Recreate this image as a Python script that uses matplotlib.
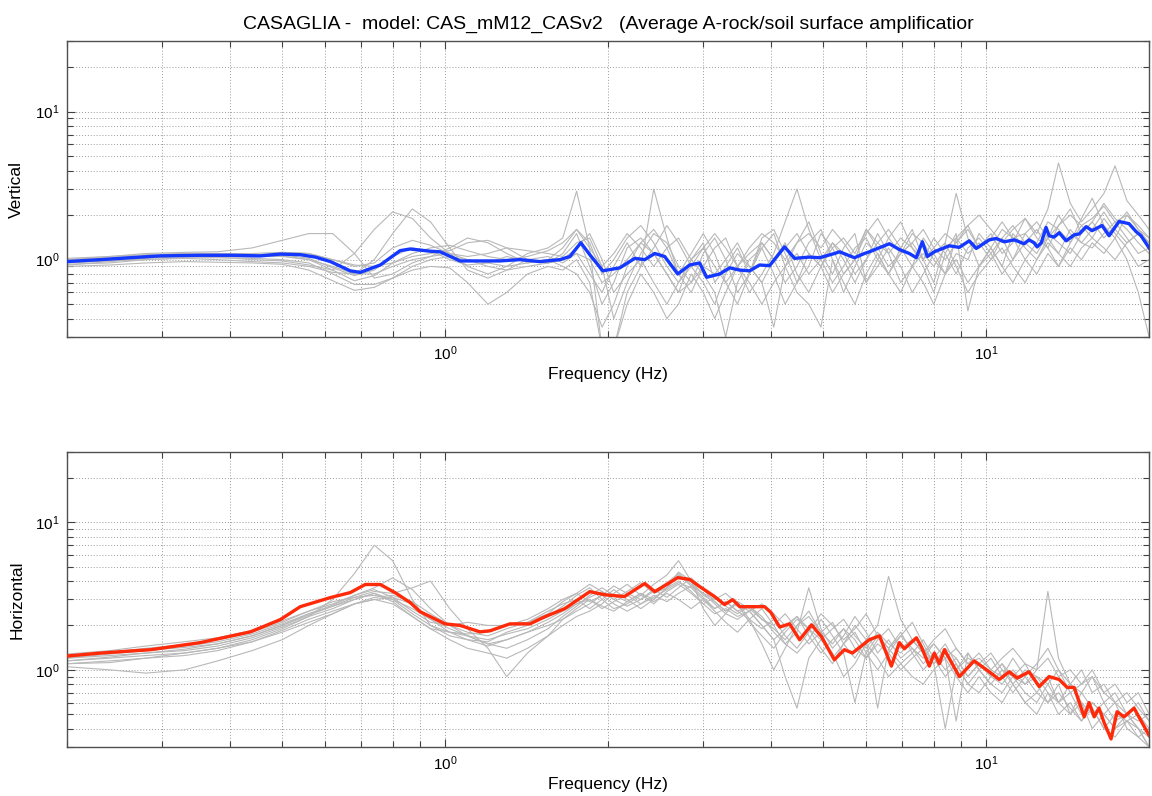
import matplotlib
matplotlib.use("Agg")
import matplotlib.pyplot as plt
from matplotlib.ticker import LogLocator, NullFormatter

plt.rcParams['font.family'] = ['Liberation Sans', 'DejaVu Sans']

# frequency grid shared by the single-record spectra (Hz)
freq = [0.2, 0.24, 0.28, 0.33, 0.38, 0.44, 0.5, 0.56, 0.62, 0.68,
        0.74, 0.8, 0.87, 0.94, 1.02, 1.1, 1.2, 1.3, 1.42, 1.55,
        1.65, 1.75, 1.85, 1.95, 2.05, 2.17, 2.3, 2.43, 2.57, 2.7,
        2.85, 3.0, 3.15, 3.3, 3.47, 3.65, 3.85, 4.05, 4.25, 4.47,
        4.7, 4.95, 5.2, 5.45, 5.72, 6.0, 6.3, 6.6, 6.95, 7.3,
        7.65, 8.0, 8.4, 8.8, 9.25, 9.7, 10.2, 10.7, 11.2, 11.8,
        12.4, 13.0, 13.6, 14.3, 15.0, 15.7, 16.5, 17.3, 18.2, 19.1, 20.0]

# vertical component, one list per record
vert_records = [
    [0.96, 1.0, 1.04, 1.06, 1.05, 1.04, 1.08, 1.02, 0.88, 0.78, 0.85, 1.05, 1.2, 1.15, 1.0, 0.92, 0.95, 1.05, 0.98, 0.95,
     1.1, 1.5, 0.9, 0.5, 0.7, 1.2, 1.4, 1.1, 0.8, 0.6,
     1.0, 1.3, 0.7, 0.9, 1.2, 0.8, 1.4, 1.6, 1.1, 0.7,
     0.9, 1.5, 1.2, 0.8, 1.0, 1.6, 1.2, 0.9, 1.1, 1.5,
     1.3, 1.0, 0.8, 1.4, 1.7, 1.2, 1.5, 1.1, 1.3, 1.9,
     1.4, 1.2, 1.7, 2.2, 1.5, 1.8, 2.4, 1.9, 1.6, 1.3, 1.1],
    [0.92, 0.97, 1.02, 1.05, 1.06, 1.07, 1.12, 1.1, 1.0, 0.9, 0.95, 1.2, 1.35, 1.25, 1.1, 1.05, 1.1, 1.2, 1.15, 1.1,
     1.05, 1.3, 1.4, 0.9, 0.4, 0.7, 1.1, 1.5, 1.3, 0.9,
     0.7, 1.1, 1.4, 1.0, 0.6, 0.8, 1.2, 1.5, 0.9, 1.3,
     1.8, 1.1, 0.8, 1.2, 1.5, 0.7, 1.0, 1.4, 1.8, 1.2,
     0.9, 0.6, 1.1, 1.5, 0.45, 0.9, 1.2, 1.6, 1.4, 1.0,
     1.3, 1.8, 1.6, 1.3, 1.9, 2.6, 1.7, 1.4, 2.0, 1.7, 1.4],
    [1.0, 1.05, 1.1, 1.12, 1.13, 1.2, 1.35, 1.5, 1.5, 1.1, 0.75, 0.8, 0.95, 1.05, 1.1, 1.0, 0.95, 0.9, 0.95, 1.0,
     0.9, 0.8, 0.6, 0.35, 0.5, 0.9, 1.3, 1.6, 1.2, 0.8,
     1.1, 1.5, 1.1, 0.7, 0.5, 0.8, 1.3, 1.0, 0.7, 0.9,
     1.3, 1.6, 1.0, 0.6, 0.9, 1.3, 1.1, 0.8, 1.2, 1.6,
     1.0, 0.7, 1.3, 2.8, 1.4, 0.9, 1.1, 1.4, 1.0, 1.3,
     1.6, 1.2, 0.9, 1.3, 1.7, 1.4, 1.9, 1.5, 1.2, 0.9, 1.0],
    [0.98, 1.0, 1.03, 1.05, 1.04, 1.0, 0.98, 0.92, 0.85, 1.1, 1.6, 2.1, 1.9, 1.4, 1.1, 0.9, 0.8, 0.9, 1.1, 1.2,
     1.4, 2.9, 1.2, 0.25, 0.25, 0.6, 0.9, 1.2, 1.7, 1.3,
     0.9, 0.7, 0.5, 0.8, 1.1, 0.9, 0.7, 1.0, 1.3, 0.8,
     0.6, 0.9, 1.3, 1.1, 0.8, 1.0, 1.5, 1.1, 0.7, 0.9,
     1.4, 1.1, 0.8, 1.1, 1.0, 1.5, 1.2, 0.9, 1.5, 1.2,
     1.0, 1.4, 1.1, 1.6, 1.3, 1.2, 1.5, 1.8, 1.4, 1.1, 1.2],
    [0.95, 0.98, 1.0, 1.02, 1.0, 0.97, 0.95, 0.9, 0.82, 0.8, 1.0, 1.5, 2.2, 1.8, 1.2, 0.85, 0.75, 0.85, 1.0, 1.05,
     0.95, 1.1, 0.8, 0.6, 0.9, 1.3, 0.9, 3.0, 1.4, 0.8,
     0.6, 0.9, 1.2, 1.4, 0.9, 0.6, 0.8, 1.1, 1.8, 3.0,
     1.6, 1.0, 0.7, 0.9, 1.2, 1.4, 1.0, 0.8, 1.1, 1.3,
     1.0, 1.4, 1.1, 0.8, 1.2, 1.4, 1.1, 0.8, 1.0, 1.5,
     1.2, 1.4, 2.0, 1.5, 1.3, 1.6, 2.1, 1.6, 1.3, 1.5, 1.3],
    [0.9, 0.92, 0.95, 0.97, 0.96, 0.95, 0.93, 0.85, 0.72, 0.62, 0.65, 0.75, 0.85, 0.9, 0.88, 0.7, 0.5, 0.6, 0.8, 0.9,
     0.85, 1.0, 0.7, 0.25, 0.25, 0.5, 0.8, 0.6, 0.4, 0.5,
     0.8, 0.6, 0.4, 0.6, 0.9, 0.7, 0.5, 0.7, 0.9, 0.6,
     0.5, 0.35, 1.0, 0.7, 0.5, 0.8, 1.1, 0.8, 0.6, 0.9,
     0.7, 0.5, 0.8, 1.0, 0.7, 0.9, 1.2, 0.9, 0.7, 1.0,
     0.8, 1.1, 0.9, 1.2, 1.0, 1.3, 1.1, 1.4, 1.0, 0.6, 0.3],
    [1.02, 1.05, 1.08, 1.1, 1.1, 1.09, 1.06, 1.0, 0.85, 0.72, 0.78, 0.95, 1.05, 1.1, 1.15, 1.3, 1.35, 1.2, 1.0, 0.95,
     1.0, 1.2, 1.5, 1.0, 0.6, 0.8, 1.0, 0.7, 0.5, 0.7,
     1.0, 0.8, 0.6, 0.3, 0.7, 1.0, 1.2, 0.8, 0.5, 0.7,
     1.1, 0.9, 0.6, 0.8, 1.0, 0.7, 0.9, 1.2, 0.9, 0.6,
     0.8, 1.1, 1.3, 0.9, 0.6, 0.8, 1.0, 1.2, 0.9, 0.7,
     1.0, 1.3, 1.1, 0.9, 1.2, 1.4, 1.2, 1.0, 1.3, 1.5, 1.2],
    [0.97, 1.0, 1.05, 1.08, 1.07, 1.05, 1.05, 1.0, 0.9, 0.8, 0.8, 0.9, 1.0, 1.05, 1.2, 1.4, 1.3, 1.1, 0.95, 1.0,
     1.2, 1.6, 1.3, 0.8, 1.0, 1.4, 1.7, 1.3, 0.9, 0.7,
     0.9, 1.2, 0.9, 0.7, 0.9, 1.2, 1.5, 1.3, 1.0, 1.3,
     1.5, 1.2, 1.6, 1.3, 1.0, 1.5, 1.9, 1.4, 1.1, 1.3,
     1.6, 1.2, 1.0, 1.3, 1.7, 2.0, 1.6, 1.3, 1.6, 1.9,
     1.5, 2.2, 4.5, 2.4, 1.8, 2.2, 2.8, 4.3, 2.5, 2.0, 1.6],
    [0.93, 0.95, 1.0, 1.03, 1.03, 1.02, 1.0, 0.95, 0.8, 0.68, 0.68, 0.75, 0.9, 1.0, 1.05, 1.0, 0.9, 0.85, 0.9, 0.95,
     1.0, 1.1, 1.0, 0.7, 0.8, 1.0, 1.3, 1.1, 0.8, 0.6,
     0.7, 0.9, 0.8, 1.0, 1.3, 0.9, 0.7, 0.35, 0.9, 1.1,
     0.8, 1.0, 1.3, 1.0, 0.7, 1.0, 1.3, 1.6, 1.2, 0.9,
     1.1, 0.9, 1.2, 1.4, 1.1, 1.3, 1.0, 1.4, 1.7, 1.3,
     1.1, 1.5, 1.3, 1.1, 1.5, 1.8, 1.4, 1.7, 2.1, 1.6, 1.3],
    [1.0, 1.03, 1.07, 1.1, 1.1, 1.1, 1.12, 1.1, 1.0, 0.92, 0.9, 0.95, 1.1, 1.2, 1.25, 1.15, 1.05, 1.0, 1.05, 1.15,
     1.3, 1.6, 1.2, 0.9, 1.1, 1.5, 1.2, 0.9, 1.2, 1.4,
     1.0, 1.2, 1.5, 1.2, 0.9, 1.1, 1.3, 1.0, 1.2, 1.5,
     1.1, 0.9, 1.2, 1.4, 1.1, 1.6, 1.3, 1.1, 1.4, 1.2,
     1.0, 1.2, 1.5, 1.3, 1.6, 1.2, 1.4, 1.8, 1.4, 1.5,
     1.8, 1.4, 1.7, 2.0, 1.7, 1.9, 2.3, 1.8, 2.0, 1.6, 1.4],
]

# horizontal component, one list per record
hor_records = [
    [1.2, 1.25, 1.3, 1.38, 1.5, 1.7, 2.0, 2.4, 2.7, 3.0, 3.3, 3.0, 2.4, 2.0, 1.8, 1.7, 1.6, 1.75, 1.9, 2.2,
     2.5, 2.8, 3.0, 2.7, 2.5, 2.9, 3.3, 2.8, 3.4, 3.8,
     3.3, 2.8, 2.4, 2.6, 2.3, 2.5, 2.0, 1.6, 1.9, 2.3,
     1.7, 1.3, 1.6, 1.9, 1.4, 1.2, 1.6, 1.9, 1.4, 1.6,
     1.3, 1.1, 1.4, 1.2, 0.9, 1.1, 0.9, 0.8, 1.0, 0.8,
     0.9, 0.7, 0.6, 0.8, 0.6, 0.5, 0.6, 0.45, 0.5, 0.4, 0.35],
    [1.15, 1.2, 1.25, 1.3, 1.4, 1.6, 1.9, 2.3, 3.0, 4.5, 7.0, 5.5, 3.0, 2.0, 1.7, 1.6, 1.55, 1.8, 2.0, 2.3,
     2.7, 3.2, 3.6, 3.0, 2.6, 2.8, 3.2, 3.8, 4.4, 5.5,
     4.0, 2.6, 2.0, 2.4, 2.9, 2.2, 1.5, 1.0, 1.4, 2.0,
     2.5, 1.8, 1.2, 1.5, 2.0, 1.6, 0.55, 1.4, 1.8, 1.3,
     1.0, 1.2, 1.5, 1.1, 0.8, 1.0, 1.2, 0.9, 0.7, 0.9,
     0.7, 0.6, 0.8, 0.5, 0.6, 0.4, 0.5, 0.6, 0.4, 0.35, 0.3],
    [1.1, 1.15, 1.2, 1.3, 1.4, 1.55, 1.8, 2.1, 2.4, 2.8, 3.1, 3.2, 2.9, 2.4, 2.0, 1.7, 1.5, 1.6, 1.8, 2.1,
     2.4, 2.8, 3.1, 3.4, 3.0, 2.7, 3.0, 3.5, 3.1, 3.6,
     4.2, 3.5, 2.9, 2.5, 2.8, 2.1, 1.7, 1.4, 1.8, 2.2,
     1.9, 1.4, 1.1, 1.5, 1.8, 1.3, 1.0, 1.3, 1.7, 2.1,
     1.5, 1.1, 0.4, 1.0, 1.3, 1.0, 0.8, 0.7, 0.9, 1.1,
     0.8, 0.6, 0.7, 0.55, 0.45, 0.6, 0.5, 0.4, 0.45, 0.5, 0.4],
    [1.05, 1.0, 0.95, 1.0, 1.15, 1.35, 1.6, 2.0, 2.4, 2.8, 3.0, 2.8, 2.3, 1.9, 1.6, 1.4, 1.3, 1.2, 1.4, 1.7,
     2.0, 2.3, 2.5, 2.8, 3.3, 3.8, 3.2, 2.9, 3.3, 3.0,
     2.6, 3.0, 2.5, 2.1, 1.8, 2.2, 2.6, 2.0, 1.5, 1.3,
     1.6, 2.2, 1.7, 1.3, 0.6, 1.3, 1.7, 1.4, 1.1, 1.3,
     1.6, 1.2, 0.9, 1.1, 0.8, 0.7, 0.9, 1.1, 0.8, 0.6,
     0.7, 0.9, 0.6, 0.5, 0.7, 0.55, 0.4, 0.5, 0.45, 0.35, 0.4],
    [1.25, 1.32, 1.4, 1.48, 1.6, 1.8, 2.1, 2.5, 2.8, 3.2, 3.6, 4.2, 3.5, 2.6, 2.0, 1.8, 1.7, 1.9, 2.1, 2.4,
     2.9, 3.3, 3.8, 3.4, 3.0, 3.4, 3.9, 3.3, 3.6, 4.6,
     4.0, 3.2, 2.9, 2.5, 2.9, 2.6, 2.2, 2.0, 2.4, 1.9,
     1.5, 1.8, 2.1, 1.5, 1.2, 1.6, 2.0, 4.3, 2.2, 1.6,
     1.3, 1.6, 1.9, 1.4, 1.1, 1.3, 1.0, 0.9, 1.2, 0.9,
     1.1, 1.4, 1.0, 0.8, 1.0, 0.7, 0.8, 0.6, 0.7, 0.55, 0.45],
    [1.15, 1.22, 1.3, 1.35, 1.45, 1.65, 1.95, 2.3, 2.6, 3.0, 3.3, 2.9, 2.3, 1.9, 1.8, 1.75, 1.8, 2.0, 2.1, 2.5,
     2.8, 3.0, 2.6, 3.0, 3.5, 3.0, 2.6, 3.0, 3.6, 4.0,
     3.4, 2.8, 3.1, 2.7, 2.4, 2.7, 2.3, 1.8, 1.5, 1.8,
     3.6, 1.9, 1.4, 1.7, 2.3, 1.8, 1.3, 1.6, 1.2, 1.4,
     1.1, 1.3, 1.0, 1.2, 0.9, 1.1, 1.3, 1.0, 0.8, 1.0,
     0.9, 0.8, 1.0, 0.7, 0.8, 1.0, 0.7, 0.6, 0.5, 0.6, 0.45],
    [1.2, 1.28, 1.35, 1.42, 1.5, 1.7, 2.0, 2.35, 2.7, 3.1, 3.4, 3.3, 3.6, 4.0, 2.6, 1.9, 1.4, 0.9, 1.3, 1.7,
     2.2, 2.6, 3.0, 2.6, 2.9, 3.2, 2.8, 3.1, 3.5, 3.9,
     3.6, 3.0, 2.6, 2.9, 2.5, 2.2, 1.9, 2.2, 1.7, 1.4,
     1.8, 2.4, 2.0, 1.6, 1.9, 2.4, 1.7, 1.4, 1.7, 1.4,
     1.2, 1.5, 1.2, 0.45, 1.3, 1.0, 0.8, 1.0, 0.9, 0.7,
     0.6, 0.8, 0.6, 0.7, 0.5, 0.6, 0.5, 0.4, 0.5, 0.45, 0.5],
    [1.28, 1.35, 1.45, 1.55, 1.65, 1.85, 2.15, 2.5, 2.9, 3.1, 3.2, 3.0, 2.6, 2.2, 1.9, 1.7, 1.5, 1.4, 1.6, 1.9,
     2.3, 2.7, 3.2, 3.6, 3.2, 2.9, 3.3, 3.0, 3.6, 4.4,
     3.7, 3.1, 2.6, 2.9, 2.5, 2.7, 2.2, 1.9, 1.6, 2.0,
     2.3, 1.8, 1.5, 1.9, 1.6, 1.2, 1.5, 1.3, 1.0, 1.2,
     1.4, 1.1, 1.3, 1.0, 1.2, 1.1, 0.9, 1.1, 0.9, 0.8,
     1.0, 3.4, 1.2, 0.8, 0.7, 0.9, 0.6, 0.7, 0.5, 0.4, 0.3],
    [1.1, 1.12, 1.2, 1.25, 1.35, 1.55, 1.85, 2.2, 2.5, 2.8, 3.0, 3.1, 2.8, 2.2, 1.8, 1.6, 1.45, 1.6, 1.8, 2.0,
     2.2, 2.5, 2.8, 3.2, 2.8, 2.5, 2.8, 3.2, 2.9, 3.3,
     3.7, 3.3, 2.8, 2.4, 2.2, 2.5, 2.0, 1.6, 0.9, 0.55,
     1.2, 1.6, 1.3, 0.9, 1.1, 1.5, 1.2, 0.9, 1.1, 0.9,
     0.8, 1.0, 1.2, 0.9, 0.7, 0.9, 0.7, 0.6, 0.8, 0.6,
     0.5, 0.7, 0.5, 0.6, 0.45, 0.55, 0.4, 0.35, 0.45, 0.4, 0.3],
    [1.22, 1.3, 1.36, 1.45, 1.55, 1.75, 2.05, 2.4, 2.75, 3.2, 3.5, 3.1, 2.5, 2.1, 2.0, 2.1, 2.0, 2.0, 2.2, 2.6,
     3.0, 3.3, 2.9, 3.2, 3.7, 3.3, 3.0, 3.4, 3.9, 4.5,
     3.8, 3.3, 3.0, 3.3, 2.8, 2.5, 2.8, 2.4, 2.0, 2.3,
     1.9, 1.6, 1.9, 2.2, 1.7, 1.4, 1.8, 1.5, 1.3, 1.6,
     1.3, 1.5, 1.2, 1.4, 1.1, 1.2, 1.0, 1.2, 1.4, 1.1,
     1.0, 1.2, 0.9, 1.0, 0.8, 0.9, 0.7, 0.8, 0.6, 0.7, 0.5],
]

# average amplification, vertical
vert_mean_freq = [0.2, 0.231, 0.262, 0.298, 0.353, 0.401, 0.456, 0.496, 0.54, 0.576,
                  0.614, 0.668, 0.697, 0.759, 0.826, 0.862, 0.938, 0.979, 1.066, 1.263,
                  1.375, 1.497, 1.63, 1.701, 1.782, 1.851, 1.956, 2.103, 2.242, 2.339,
                  2.441, 2.546, 2.691, 2.832, 2.954, 3.044, 3.217, 3.357, 3.503, 3.655,
                  3.813, 3.978, 4.24, 4.424, 4.715, 4.919, 5.244, 5.356, 5.708, 5.956,
                  6.083, 6.623, 6.911, 7.21, 7.427, 7.62, 7.784, 8.02, 8.546, 8.917,
                  9.304, 9.584, 10.13, 10.43, 10.8, 11.27, 11.75, 12.0, 12.26, 12.42,
                  12.64, 12.9, 13.07, 13.35, 13.64, 14.05, 14.54, 14.85, 15.3, 15.69,
                  16.37, 16.87, 17.6, 18.36, 18.91, 19.32, 20.0]
vert_mean = [0.97, 1.0, 1.03, 1.06, 1.07, 1.07, 1.06, 1.09, 1.08, 1.04,
             0.97, 0.84, 0.82, 0.92, 1.15, 1.18, 1.14, 1.13, 0.98, 0.98,
             1.0, 0.97, 1.0, 1.05, 1.3, 1.08, 0.84, 0.88, 1.02, 1.0,
             1.1, 1.05, 0.8, 0.92, 0.95, 0.76, 0.8, 0.88, 0.85, 0.84,
             0.92, 0.91, 1.22, 1.02, 1.04, 1.03, 1.1, 1.13, 1.03, 1.1,
             1.13, 1.28, 1.17, 1.1, 1.03, 1.32, 1.05, 1.13, 1.24, 1.21,
             1.34, 1.19, 1.36, 1.39, 1.32, 1.36, 1.28, 1.36, 1.3, 1.22,
             1.3, 1.65, 1.45, 1.42, 1.52, 1.34, 1.47, 1.49, 1.67, 1.57,
             1.7, 1.45, 1.81, 1.75, 1.55, 1.45, 1.2]

# average amplification, horizontal
hor_mean_freq = [0.2, 0.231, 0.286, 0.353, 0.437, 0.496, 0.54, 0.614, 0.668, 0.712,
                 0.759, 0.809, 0.862, 0.899, 1.0, 1.066, 1.16, 1.211, 1.318, 1.435,
                 1.529, 1.664, 1.851, 1.973, 2.145, 2.259, 2.339, 2.441, 2.6, 2.691,
                 2.832, 2.954, 3.148, 3.284, 3.4, 3.503, 3.655, 3.895, 4.0, 4.153,
                 4.333, 4.52, 4.755, 4.96, 5.24, 5.47, 5.66, 6.08, 6.35, 6.68,
                 6.91, 7.06, 7.43, 7.59, 7.85, 8.02, 8.19, 8.37, 8.92, 9.5,
                 10.13, 10.57, 11.03, 11.41, 12.0, 12.53, 13.07, 13.64, 14.11, 14.54,
                 15.17, 15.49, 15.83, 16.16, 16.51, 17.01, 17.45, 17.98, 18.76, 19.4, 20.0]
hor_mean = [1.24, 1.3, 1.37, 1.53, 1.81, 2.19, 2.68, 3.09, 3.34, 3.79,
            3.79, 3.33, 2.86, 2.48, 2.05, 2.0, 1.81, 1.84, 2.05, 2.05,
            2.29, 2.6, 3.39, 3.23, 3.14, 3.55, 3.85, 3.39, 3.9, 4.22,
            4.1, 3.67, 3.14, 2.77, 2.99, 2.68, 2.68, 2.68, 2.45, 1.95,
            2.05, 1.6, 2.02, 1.68, 1.17, 1.37, 1.3, 1.6, 1.7, 1.06,
            1.53, 1.39, 1.65, 1.43, 1.06, 1.3, 1.1, 1.37, 0.9, 1.15,
            0.97, 0.86, 0.97, 0.88, 0.97, 0.77, 0.9, 0.86, 0.76, 0.76,
            0.48, 0.6, 0.48, 0.55, 0.44, 0.34, 0.52, 0.48, 0.55, 0.44, 0.36]

title = "CASAGLIA -  model: CAS_mM12_CASv2   (Average A-rock/soil surface amplificatior"


def draw_panel(ax, records, mean_f, mean_v, color, ylabel):
    for rec in records:
        ax.plot(freq, rec, color='#b8b8b8', lw=0.8, zorder=2)
    ax.plot(mean_f, mean_v, color=color, lw=2.4, zorder=3)

    ax.set_xscale('log')
    ax.set_yscale('log')
    ax.set_xlim(0.2, 20)
    ax.set_ylim(0.3, 30)

    for axis in (ax.xaxis, ax.yaxis):
        axis.set_major_locator(LogLocator(base=10))
        axis.set_minor_locator(LogLocator(base=10, subs=range(2, 10)))
        axis.set_minor_formatter(NullFormatter())

    ax.grid(True, which='both', linestyle=(0, (1, 2)), color='#9a9a9a', lw=0.7, zorder=0)
    ax.tick_params(which='both', direction='in', top=True, right=True,
                   colors='#404040', labelcolor='black', labelsize=11)
    ax.tick_params(which='major', length=6, width=0.8, pad=5)
    ax.tick_params(which='minor', length=4, width=0.8)
    for sp in ax.spines.values():
        sp.set_color('#505050')
        sp.set_linewidth(1.0)

    ax.set_xlabel('Frequency (Hz)', fontsize=12.5, labelpad=3)
    ax.set_ylabel(ylabel, fontsize=12.5, labelpad=8)


fig = plt.figure(figsize=(11.52, 7.96), dpi=100)
ax_v = fig.add_axes([0.058, 0.5766, 0.9395, 0.3719])
ax_h = fig.add_axes([0.058, 0.0616, 0.9395, 0.3706])

draw_panel(ax_v, vert_records, vert_mean_freq, vert_mean, '#1438ff', 'Vertical')
draw_panel(ax_h, hor_records, hor_mean_freq, hor_mean, '#ff2a0a', 'Horizontal')
ax_v.set_title(title, fontsize=14, pad=9)

fig.savefig('out.png', dpi=100)
